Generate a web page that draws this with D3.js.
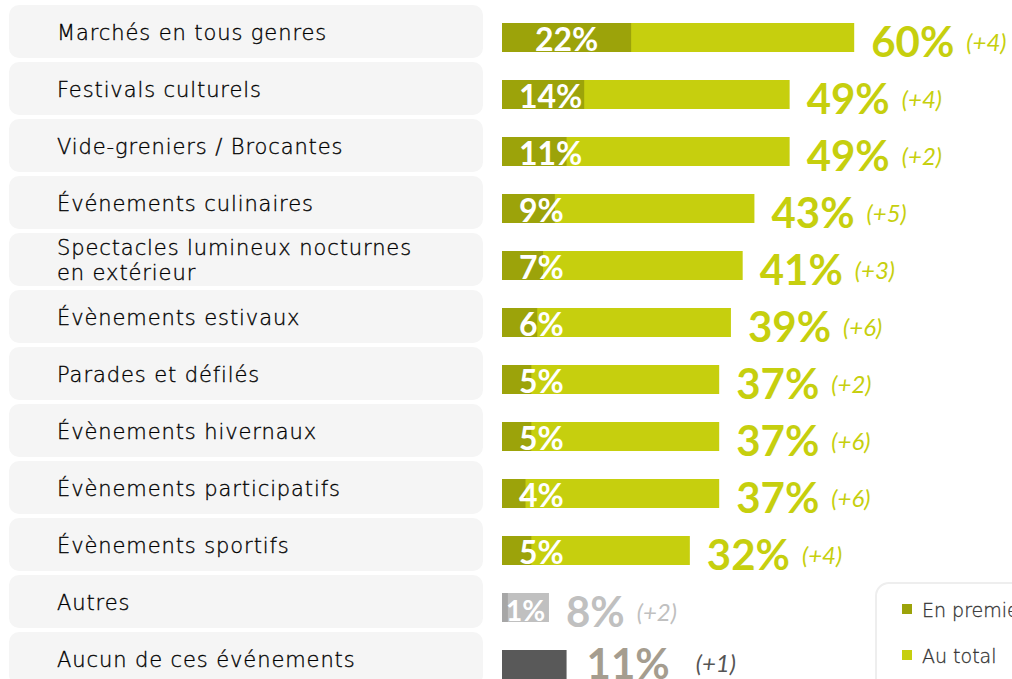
<!DOCTYPE html>
<html>
<head>
<meta charset="utf-8">
<script src="https://cdn.jsdelivr.net/npm/d3@7"></script>
<style>
  html, body { margin: 0; padding: 0; background: #fff; overflow: hidden; }
  #chart { width: 1012px; height: 679px; }
</style>
</head>
<body>
<div id="chart"></div>
<script>
const categories = [
  'Marchés en tous genres',
  'Festivals culturels',
  'Vide-greniers / Brocantes',
  'Événements culinaires',
  'Spectacles lumineux nocturnes|en extérieur',
  'Évènements estivaux',
  'Parades et défilés',
  'Évènements hivernaux',
  'Évènements participatifs',
  'Évènements sportifs',
  'Autres',
  'Aucun de ces événements'
];
const premier = [22, 14, 11, 9, 7, 6, 5, 5, 4, 5, 1, null];
const total = [60, 49, 49, 43, 41, 39, 37, 37, 37, 32, 8, 11];
const deltas = ['+4', '+4', '+2', '+5', '+3', '+6', '+2', '+6', '+6', '+4', '+2', '+1'];
const legendLabels = ['En premier', 'Au total'];

const colors = {
  premier: '#9ca30a',
  total: '#c6cf0e',
  autresDark: '#a6a6a6',
  autresLight: '#c0c0c0',
  aucun: '#595959',
  aucunText: '#a59d8f'
};

const width = 1012, height = 679;
const data = categories.map((c, i) => ({
  label: c, premier: premier[i], total: total[i], delta: deltas[i], i
}));

const svg = d3.select('#chart').append('svg')
  .attr('width', width).attr('height', height);

const x = d3.scaleLinear().domain([0, 100]).range([502, 502 + 587]);
const y = d3.scaleBand().domain(categories).range([5, 5 + 57 * categories.length]);

const barH = 29;
const labelFont = 'DejaVu Sans, sans-serif';
const numFont = 'Lato, sans-serif';

const rows = svg.selectAll('.row').data(data).enter().append('g')
  .attr('class', 'row')
  .attr('transform', d => 'translate(0,' + y(d.label) + ')');

// label boxes
rows.append('rect')
  .attr('x', 9).attr('y', 0)
  .attr('width', 474).attr('height', y.step() - 4)
  .attr('rx', 10)
  .style('fill', '#f5f5f5');

// category text
rows.each(function(d) {
  const lines = d.label.split('|');
  const t = d3.select(this).append('text')
    .attr('x', 57)
    .style('font-family', labelFont)
    .style('font-size', '21px')
    .style('font-weight', 300)
    .style('letter-spacing', '0.9px')
    .style('fill', '#000')
    .style('stroke', '#000')
    .style('stroke-width', 0.35);
  if (lines.length === 1) {
    t.append('tspan').attr('x', 57).attr('y', 35).text(lines[0]);
  } else {
    t.append('tspan').attr('x', 57).attr('y', 22).text(lines[0]);
    t.append('tspan').attr('x', 57).attr('y', 47).text(lines[1]);
  }
});

const barTop = 18;

function totalColor(d) {
  if (d.i === 10) return colors.autresLight;
  if (d.i === 11) return colors.aucun;
  return colors.total;
}
function premierColor(d) {
  return d.i === 10 ? colors.autresDark : colors.premier;
}

// total bars
rows.append('rect')
  .attr('x', x(0))
  .attr('y', barTop)
  .attr('width', d => x(d.total) - x(0))
  .attr('height', barH)
  .style('fill', totalColor);

// first-choice bars
rows.filter(d => d.premier != null).append('rect')
  .attr('x', x(0))
  .attr('y', barTop)
  .attr('width', d => x(d.premier) - x(0))
  .attr('height', barH)
  .style('fill', premierColor);

// inner labels
rows.filter(d => d.premier != null).each(function(d) {
  const g = d3.select(this);
  const small = d.i === 10;
  const t = g.append('text')
    .attr('y', barTop + barH - 1)
    .style('font-family', numFont)
    .style('font-weight', 700)
    .style('font-size', small ? '28px' : '32px')
    .style('fill', '#fff')
    .text(d.premier + '%');
  const w = t.node().getComputedTextLength();
  const cx = (x(0) + x(d.premier)) / 2;
  const minLeft = small ? x(0) + 4 : 519;
  t.attr('x', Math.max(minLeft, cx - w / 2));
});

// total value labels + deltas
rows.each(function(d) {
  const g = d3.select(this);
  const isAucun = d.i === 11, isAutres = d.i === 10;
  const numColor = isAucun ? colors.aucunText : isAutres ? colors.autresLight : colors.total;
  const deltaColor = isAucun ? '#555' : isAutres ? colors.autresLight : colors.total;
  const nx = x(d.total) + (isAucun ? 20 : 17);
  const t = g.append('text')
    .attr('x', nx)
    .attr('y', barTop + (isAucun ? 29 : 34))
    .style('font-family', numFont)
    .style('font-weight', 700)
    .style('font-size', '42px')
    .style('fill', numColor)
    .text(d.total + '%');
  const w = t.node().getComputedTextLength();
  g.append('text')
    .attr('x', nx + w + (isAucun ? 26 : 12))
    .attr('y', barTop + (isAucun ? 22 : 28))
    .style('font-family', numFont)
    .style('font-style', 'italic')
    .style('font-weight', 400)
    .style('font-size', '24px')
    .style('fill', deltaColor)
    .text('(' + d.delta + ')');
});

// legend
const lg = svg.append('g').attr('transform', 'translate(876,583)');
lg.append('rect')
  .attr('width', 200).attr('height', 140)
  .attr('rx', 13)
  .style('fill', '#fff')
  .style('stroke', '#eeeeee')
  .style('stroke-width', 2);
const legendColors = [colors.premier, colors.total];
legendLabels.forEach((l, i) => {
  const item = lg.append('g').attr('transform', 'translate(26,' + (21 + i * 46) + ')');
  item.append('rect').attr('width', 10).attr('height', 10).style('fill', legendColors[i]);
  item.append('text')
    .attr('x', 20).attr('y', 13)
    .style('font-family', labelFont)
    .style('font-size', '19px')
    .style('font-weight', 300)
    .style('fill', '#333')
    .style('stroke', '#333')
    .style('stroke-width', 0.3)
    .text(l);
});
</script>
</body>
</html>
